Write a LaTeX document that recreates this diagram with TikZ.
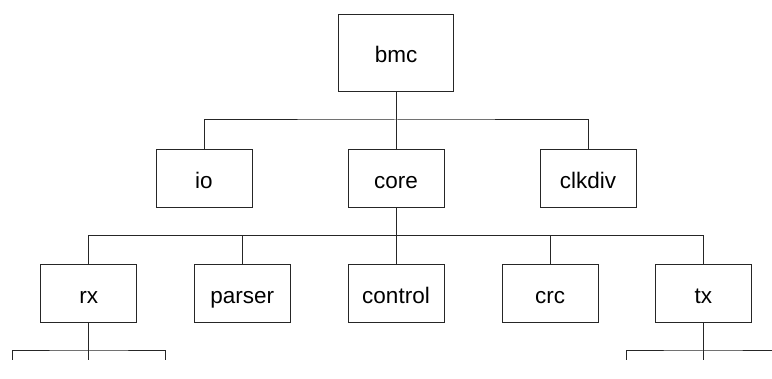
\documentclass[tikz,border=0pt]{standalone}
\usepackage{fontspec}
\setmainfont{Liberation Sans}
\begin{document}
\begin{tikzpicture}[x=1pt,y=-1pt,
  box/.style={draw=black!85, line width=1pt, minimum width=96pt, minimum height=58pt, inner sep=0pt, text height=20.6pt, text depth=0pt, font=\fontsize{22.5}{26}\selectfont},
  bigbox/.style={box, minimum width=115pt, minimum height=77pt},
  wire/.style={draw=black!85, line width=1pt}]
\useasboundingbox (0,0) rectangle (772,379);
\node[bigbox] (bmc) at (396,52.7) {bmc};
\node[box] (io) at (204,178.3) {io};
\node[box] (core) at (396,178.3) {core};
\node[box] (clkdiv) at (588,178.3) {clkdiv};
\node[box] (rx) at (88.7,293.3) {rx};
\node[box] (parser) at (242.3,293.3) {parser};
\node[box] (control) at (396,293.3) {control};
\node[box] (crc) at (550,293.3) {crc};
\node[box] (tx) at (703.3,293.3) {tx};
% bmc children
\draw[wire] (bmc.south) -- (core.north);
\draw[wire] (io.north) |- (396,120) -| (clkdiv.north);
% core children
\draw[wire] (core.south) -- (control.north);
\draw[wire] (rx.north) |- (396,235.7) -| (tx.north);
\draw[wire] (parser.north) -- (parser.north |- 0,235.7);
\draw[wire] (crc.north) -- (crc.north |- 0,235.7);
% rx children
\coordinate (rxl) at (12,360);
\coordinate (rxr) at (165.7,360);
\draw[wire] (rx.south) -- (88.7,360);
\draw[wire] (rxl) |- (88.7,351) -| (rxr);
% tx children
\coordinate (txl) at (626.7,360);
\coordinate (txr) at (780,360);
\draw[wire] (tx.south) -- (703.3,360);
\draw[wire] (txl) |- (703.3,351) -- (780,351);
\end{tikzpicture}
\end{document}
